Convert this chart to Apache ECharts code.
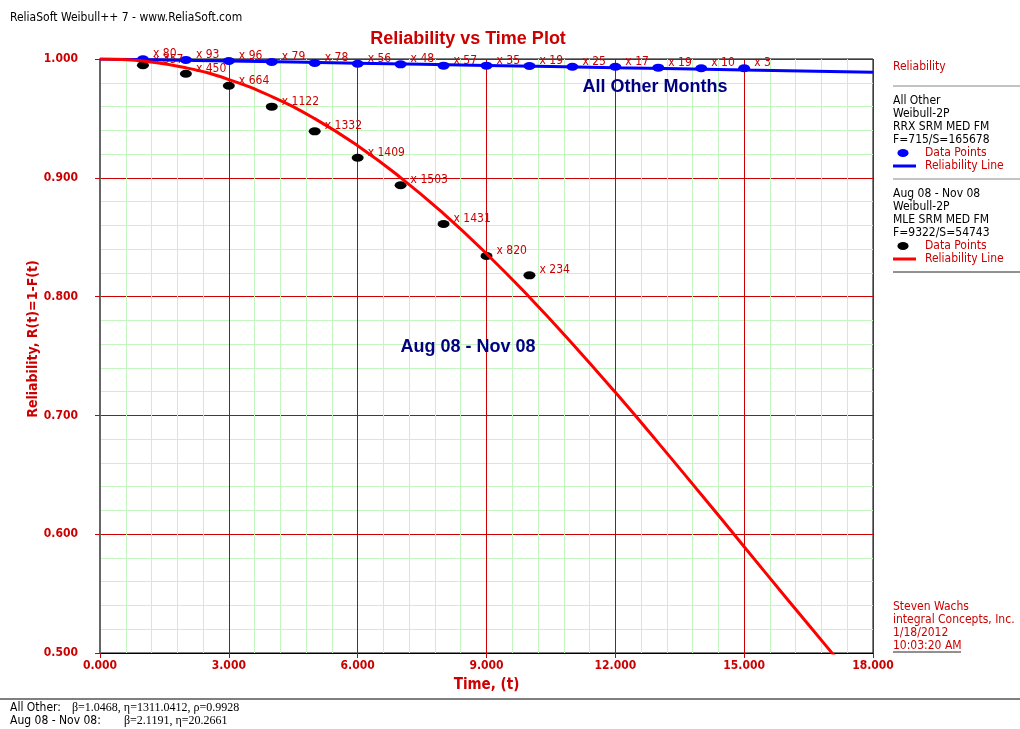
<!DOCTYPE html>
<html>
<head>
<meta charset="utf-8">
<script src="https://cdn.jsdelivr.net/npm/echarts@6/dist/echarts.min.js"></script>
<style>
html,body{margin:0;padding:0;background:#fff;}
#chart{width:1020px;height:729px;}
</style>
</head>
<body>
<div id="chart"></div>
<script>
// ---- Data ----
const pointTimes = [1,2,3,4,5,6,7,8,9,10,11,12,13,14,15];
// All Other Months: data points and counts
const allOtherR = [0.9998,0.9992,0.9983,0.9975,0.9966,0.9960,0.9955,0.9944,0.9944,0.9941,0.9935,0.9935,0.9927,0.9922,0.9922];
const allOtherCounts = [80,93,96,79,78,56,48,57,35,19,25,17,19,10,3];
// Aug 08 - Nov 08: data points and counts
const augNovTimes = [1,2,3,4,5,6,7,8,9,10];
const augNovR = [0.9947,0.9876,0.9775,0.9599,0.9391,0.9169,0.8937,0.8611,0.8342,0.8179];
const augNovCounts = [357,450,664,1122,1332,1409,1503,1431,820,234];
// Fitted reliability lines
const blueLineT = [0,3,6,9,12,15,18];
const blueLineR = [1.0000,0.9983,0.9965,0.9946,0.9927,0.9908,0.9888];
const redLineT = [0,0.5,1,2,3,4,5,6,7,8,9,10,11,12,13,14,15,16,17,17.1];
const redLineR = [1.0000,0.9996,0.9983,0.9926,0.9827,0.9684,0.9498,0.9270,0.9002,0.8698,0.8361,0.7995,0.7604,0.7194,0.6769,0.6334,0.5895,0.5455,0.5020,0.4977];
// Axis ticks
const xTickValues = [0,3,6,9,12,15,18];
const yTickValues = [0.5,0.6,0.7,0.8,0.9,1.0];

const zip = (a,b) => a.map((v,i) => [v,b[i]]);
const ELL = 'path://M0,4A6,4 0 1 1 12,4A6,4 0 1 1 0,4Z';
const TF = "'DejaVu Sans Condensed','DejaVu Sans',sans-serif";
const RED = '#cc0000';

function txt(x, y, text, opts) {
  opts = opts || {};
  return {
    type: 'text', x: x, y: y, z: 100, rotation: opts.rotation || 0,
    style: {
      text: text,
      fill: opts.fill || '#000',
      font: opts.font || ('12px ' + TF),
      align: opts.align || 'left', textAlign: opts.align || 'left',
      verticalAlign: 'middle', textVerticalAlign: 'middle'
    }
  };
}
function hline(x1, x2, y, color, w) {
  return { type: 'line', z: 100, shape: {x1: x1, y1: y, x2: x2, y2: y}, style: {stroke: color, lineWidth: w || 1} };
}

const chart = echarts.init(document.getElementById('chart'));
const labelCfg = {
  show: true, position: 'right', distance: 4, offset: [0,-5],
  color: RED, fontFamily: TF, fontSize: 12
};

chart.setOption({
  animation: false,
  backgroundColor: '#fff',
  title: {
    text: 'Reliability vs Time Plot', left: 463, top: 25, textAlign: 'center',
    textStyle: {color: RED, fontFamily: 'Liberation Sans', fontWeight: 'bold', fontSize: 18}
  },
  grid: {left: 100, right: 147, top: 59, bottom: 76, show: true, borderColor: '#000', borderWidth: 1},
  xAxis: {
    type: 'value', min: 0, max: 18, interval: 3,
    name: 'Time, (t)', nameLocation: 'middle', nameGap: 25,
    nameTextStyle: {color: RED, fontWeight: 'bold', fontFamily: TF, fontSize: 15},
    axisLine: {show: true, onZero: false, lineStyle: {color: '#000', width: 1}},
    axisTick: {show: true, length: 5, lineStyle: {color: RED}},
    axisLabel: {color: RED, fontWeight: 'bold', fontFamily: TF, fontSize: 12, margin: 7,
      formatter: v => xTickValues.includes(v) ? v.toFixed(3) : ''},
    splitLine: {show: true, lineStyle: {color: RED, width: 1}},
    minorTick: {show: false, splitNumber: 5},
    minorSplitLine: {show: true, lineStyle: {color: '#c4f5c0', width: 1}}
  },
  yAxis: {
    type: 'value', min: 0.5, max: 1.0, interval: 0.1,
    axisLine: {show: true, lineStyle: {color: '#666', width: 2}},
    axisTick: {show: true, length: 5, lineStyle: {color: RED}},
    axisLabel: {color: RED, fontWeight: 'bold', fontFamily: TF, fontSize: 12, margin: 22,
      formatter: v => yTickValues.some(t => Math.abs(t - v) < 1e-9) ? v.toFixed(3) : ''},
    splitLine: {show: true, lineStyle: {color: RED, width: 1}},
    minorTick: {show: false, splitNumber: 5},
    minorSplitLine: {show: true, lineStyle: {color: '#c4f5c0', width: 1}}
  },
  series: [
    {type: 'line', data: zip(blueLineT, blueLineR), showSymbol: false, smooth: true,
     lineStyle: {color: '#0000ff', width: 3}, itemStyle: {color: '#0000ff'}, clip: true},
    {type: 'line', data: zip(redLineT, redLineR), showSymbol: false, smooth: true,
     lineStyle: {color: '#ff0000', width: 3}, itemStyle: {color: '#ff0000'}, clip: true},
    {type: 'scatter', data: zip(pointTimes, allOtherR), symbol: ELL, symbolSize: [12,8],
     itemStyle: {color: '#0000ff', opacity: 1},
     label: Object.assign({}, labelCfg, {formatter: p => 'x ' + allOtherCounts[p.dataIndex]})},
    {type: 'scatter', data: zip(augNovTimes, augNovR), symbol: ELL, symbolSize: [12,8],
     itemStyle: {color: '#000', opacity: 1},
     label: Object.assign({}, labelCfg, {formatter: p => 'x ' + augNovCounts[p.dataIndex]})}
  ],
  graphic: [
    txt(10, 18, 'ReliaSoft Weibull++ 7 - www.ReliaSoft.com'),
    Object.assign(txt(33, 339, 'Reliability, R(t)=1-F(t)', {fill: RED, font: 'bold 14px ' + TF, align: 'center'}), {rotation: Math.PI/2}),
    txt(655, 87, 'All Other Months', {fill: '#000080', font: 'bold 18px Liberation Sans', align: 'center'}),
    txt(468, 347, 'Aug 08 - Nov 08', {fill: '#000080', font: 'bold 18px Liberation Sans', align: 'center'}),
    // legend block
    txt(893, 67, 'Reliability', {fill: RED}),
    hline(893, 1020, 86, '#888'),
    txt(893, 101, 'All Other'),
    txt(893, 114, 'Weibull-2P'),
    txt(893, 127, 'RRX SRM MED FM'),
    txt(893, 140, 'F=715/S=165678'),
    {type: 'circle', x: 903, y: 153, scaleX: 1.4, z: 100, shape: {cx: 0, cy: 0, r: 4}, style: {fill: '#0000ff'}},
    txt(925, 153, 'Data Points', {fill: RED}),
    hline(893, 916, 166, '#0000ff', 3),
    txt(925, 166, 'Reliability Line', {fill: RED}),
    hline(893, 1020, 179, '#888'),
    txt(893, 194, 'Aug 08 - Nov 08'),
    txt(893, 207, 'Weibull-2P'),
    txt(893, 220, 'MLE SRM MED FM'),
    txt(893, 233, 'F=9322/S=54743'),
    {type: 'circle', x: 903, y: 246, scaleX: 1.4, z: 100, shape: {cx: 0, cy: 0, r: 4}, style: {fill: '#000'}},
    txt(925, 246, 'Data Points', {fill: RED}),
    hline(893, 916, 259, '#ff0000', 3),
    txt(925, 259, 'Reliability Line', {fill: RED}),
    hline(893, 1020, 272, '#222'),
    // signature
    txt(893, 607, 'Steven Wachs', {fill: RED}),
    txt(893, 620, 'integral Concepts, Inc.', {fill: RED}),
    txt(893, 633, '1/18/2012', {fill: RED}),
    txt(893, 646, '10:03:20 AM', {fill: RED}),
    hline(893, 961, 652, '#222'),
    // footer
    hline(0, 1020, 699, '#000'),
    txt(10, 708, 'All Other:'),
    txt(72, 708, '\u03b2=1.0468, \u03b7=1311.0412, \u03c1=0.9928', {font: '12px Liberation Serif'}),
    txt(10, 721, 'Aug 08 - Nov 08:'),
    txt(124, 721, '\u03b2=2.1191, \u03b7=20.2661', {font: '12px Liberation Serif'})
  ]
});
</script>
</body>
</html>
